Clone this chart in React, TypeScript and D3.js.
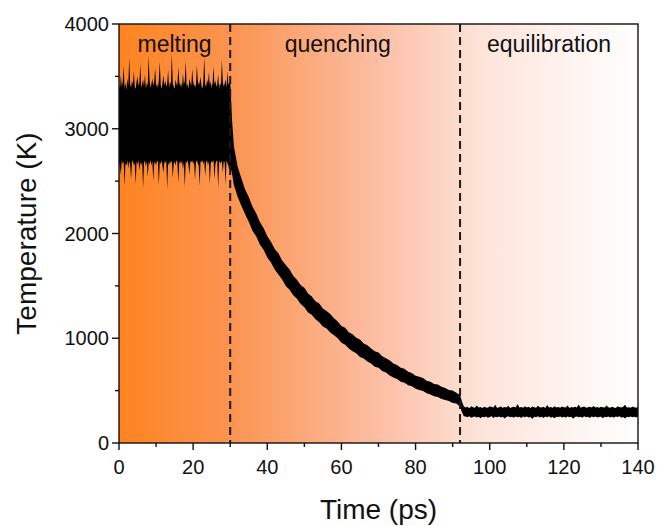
import React from 'react';
import * as d3 from 'd3';

// ---------- data ----------
const xTicks = [0, 20, 40, 60, 80, 100, 120, 140];
const xMinorTicks = [10, 30, 50, 70, 90, 110, 130];
const yTicks = [0, 1000, 2000, 3000, 4000];
const yMinorTicks = [500, 1500, 2500, 3500];

const phaseBounds = [30, 92];
const phaseLabels = ['melting', 'quenching', 'equilibration'];
const phaseLabelX = [15, 59, 116];

// melting: envelope of the noisy temperature trace every 0.25 ps (0 … 29.75 ps)
const meltTimes = d3.range(0, 29.76, 0.25);
const meltUpper = [
  3420, 3380, 3510, 3400, 3450, 3600, 3390, 3440, 3370, 3480,
  3410, 3680, 3430, 3390, 3460, 3420, 3550, 3400, 3380, 3450,
  3500, 3410, 3440, 3620, 3390, 3430, 3470, 3400, 3520, 3380,
  3440, 3410, 3700, 3460, 3390, 3430, 3480, 3410, 3450, 3580,
  3400, 3430, 3390, 3470, 3640, 3420, 3380, 3440, 3510, 3410,
  3460, 3400, 3430, 3560, 3390, 3450, 3420, 3720, 3440, 3400,
  3380, 3470, 3430, 3410, 3590, 3450, 3400, 3440, 3390, 3530,
  3420, 3460, 3650, 3400, 3430, 3380, 3480, 3440, 3410, 3570,
  3450, 3400, 3430, 3390, 3610, 3460, 3420, 3440, 3500, 3410,
  3380, 3450, 3690, 3420, 3400, 3470, 3430, 3540, 3410, 3450,
  3390, 3440, 3600, 3420, 3460, 3400, 3430, 3520, 3380, 3440,
  3410, 3660, 3450, 3400, 3430, 3470, 3390, 3550, 3420, 3440,
];
const meltLower = [
  2680, 2640, 2560, 2700, 2660, 2690, 2450, 2670, 2650, 2700,
  2620, 2690, 2660, 2520, 2680, 2700, 2650, 2670, 2470, 2690,
  2660, 2700, 2600, 2680, 2650, 2690, 2430, 2670, 2700, 2640,
  2690, 2540, 2680, 2660, 2700, 2650, 2690, 2500, 2670, 2680,
  2650, 2700, 2680, 2460, 2690, 2660, 2700, 2640, 2580, 2690,
  2670, 2700, 2420, 2680, 2650, 2690, 2670, 2700, 2530, 2660,
  2690, 2650, 2700, 2680, 2480, 2670, 2690, 2660, 2700, 2610,
  2680, 2440, 2690, 2670, 2700, 2650, 2560, 2690, 2680, 2700,
  2660, 2690, 2510, 2680, 2700, 2670, 2650, 2450, 2690, 2680,
  2700, 2660, 2690, 2550, 2680, 2700, 2650, 2690, 2470, 2670,
  2690, 2680, 2700, 2520, 2660, 2690, 2700, 2430, 2680, 2690,
  2660, 2700, 2580, 2690, 2680, 2460, 2700, 2670, 2650, 2600,
];

// quenching: centre of the decaying trace and the half-thickness of its noise above/below
const quenchTimes = [30, 30.5, ...d3.range(31, 92.01, 1), 92.5, 93];
const quenchCenter = [
  3050, 2820, 2640, 2490, 2390, 2300, 2220, 2145, 2075, 2005,
  1940, 1875, 1815, 1757, 1702, 1650, 1600, 1552, 1506, 1462,
  1420, 1380, 1342, 1305, 1270, 1236, 1203, 1171, 1140, 1110,
  1075, 1040, 1010, 982, 955, 928, 902, 877, 853, 829,
  806, 784, 760, 737, 715, 694, 674, 655, 636, 618,
  600, 583, 567, 551, 536, 521, 507, 493, 479, 465,
  452, 439, 426, 400, 345, 305,
];
const quenchNoiseUp = [
  400, 260, 190, 150, 138, 122, 128, 112, 118, 104,
  112, 98, 106, 95, 110, 92, 99, 104, 90, 97,
  88, 101, 86, 93, 84, 96, 82, 88, 92, 80,
  86, 78, 90, 75, 82, 77, 86, 72, 79, 74,
  70, 80, 68, 73, 76, 66, 71, 64, 74, 62,
  68, 60, 65, 70, 58, 63, 56, 66, 57, 61,
  55, 62, 53, 58, 50, 45,
];
const quenchNoiseDown = [
  400, 250, 180, 140, 125, 115, 108, 118, 102, 110,
  96, 105, 92, 100, 94, 88, 102, 90, 95, 86,
  92, 84, 97, 80, 88, 83, 90, 78, 85, 81,
  76, 84, 73, 80, 78, 70, 82, 71, 75, 69,
  77, 66, 72, 64, 70, 68, 62, 71, 60, 66,
  58, 64, 61, 55, 62, 57, 60, 53, 58, 54,
  52, 56, 50, 54, 52, 50,
];

// equilibration: envelope every 0.5 ps (93.5 … 140 ps)
const eqTimes = d3.range(93.5, 140.01, 0.5);
const eqUpper = [
  338, 345, 332, 350, 341, 336, 358, 339, 344, 333,
  347, 340, 336, 352, 343, 338, 366, 335, 342, 349,
  337, 344, 339, 356, 334, 341, 346, 338, 372, 340,
  343, 336, 351, 339, 345, 333, 348, 342, 337, 355,
  341, 338, 346, 335, 362, 340, 344, 337, 350, 339,
  343, 336, 348, 341, 338, 357, 335, 344, 339, 347,
  340, 368, 337, 343, 349, 336, 341, 345, 338, 353,
  339, 344, 336, 347, 341, 338, 359, 342, 337, 346,
  340, 335, 350, 343, 338, 345, 364, 339, 341, 336,
  348, 342, 337, 345,
];
const eqLower = [
  252, 246, 255, 240, 249, 253, 244, 250, 236, 251,
  247, 254, 242, 249, 256, 238, 251, 246, 253, 243,
  250, 234, 248, 255, 245, 251, 241, 253, 247, 250,
  239, 252, 246, 254, 243, 249, 230, 251, 247, 255,
  244, 250, 238, 252, 246, 255, 242, 249, 236, 251,
  248, 254, 243, 250, 240, 253, 247, 251, 232, 249,
  252, 245, 250, 241, 255, 247, 250, 238, 252, 246,
  254, 243, 249, 251, 237, 250, 246, 253, 244, 250,
  241, 252, 248, 255, 242, 249, 235, 251, 247, 253,
  245, 250, 243, 252,
];

type Pt = { t: number; lo: number; hi: number };
const zip = (ts: number[], hi: number[], lo: number[]): Pt[] =>
  ts.slice(0, Math.min(ts.length, hi.length, lo.length)).map((t, i) => ({ t, hi: hi[i], lo: lo[i] }));

const quenchUpper = quenchCenter.map((c, i) => c + quenchNoiseUp[i]);
const quenchLower = quenchCenter.map((c, i) => c - quenchNoiseDown[i]);

const trace: Pt[] = [
  ...zip(meltTimes, meltUpper, meltLower),
  ...zip(quenchTimes, quenchUpper, quenchLower),
  ...zip(eqTimes, eqUpper, eqLower),
];

// ---------- layout ----------
const W = 663;
const H = 526;
const m = { left: 119, right: 638, top: 24, bottom: 443 };
const FONT = 'Liberation Sans, Arial, Helvetica, sans-serif';

export default function App() {
  const x = d3.scaleLinear().domain([0, 140]).range([m.left, m.right]);
  const y = d3.scaleLinear().domain([0, 4000]).range([m.bottom, m.top]);

  const area = d3
    .area<Pt>()
    .x((d) => x(d.t))
    .y0((d) => y(d.lo))
    .y1((d) => y(d.hi))
    .curve(d3.curveLinear);

  const pw = m.right - m.left;
  const ph = m.bottom - m.top;

  return (
    <svg
      width={W}
      height={H}
      viewBox={`0 0 ${W} ${H}`}
      style={{ position: 'absolute', left: 0, top: 0, background: '#fff' }}
      fontFamily={FONT}
    >
      <defs>
        <linearGradient id="bg" x1="0" x2="1" y1="0" y2="0">
          <stop offset="0" stopColor="#ff8420" />
          <stop offset="0.22" stopColor="#fb9452" />
          <stop offset="0.5" stopColor="#fcbea4" />
          <stop offset="0.7" stopColor="#fde4da" />
          <stop offset="1" stopColor="#ffffff" />
        </linearGradient>
        <clipPath id="plot">
          <rect x={m.left} y={m.top} width={pw} height={ph} />
        </clipPath>
      </defs>

      <rect x={m.left} y={m.top} width={pw} height={ph} fill="url(#bg)" />

      <g clipPath="url(#plot)">
        <path d={area(trace) || ''} fill="#000" />
      </g>

      {phaseBounds.map((b) => (
        <line
          key={b}
          x1={x(b)}
          x2={x(b)}
          y1={m.top}
          y2={m.bottom}
          stroke="#1a1a1a"
          strokeWidth={2}
          strokeDasharray="8,5"
        />
      ))}

      {phaseLabels.map((l, i) => (
        <text key={l} x={x(phaseLabelX[i])} y={52} fontSize={23} textAnchor="middle" fill="#111">
          {l}
        </text>
      ))}

      {/* frame */}
      <rect x={m.left} y={m.top} width={pw} height={ph} fill="none" stroke="#111" strokeWidth={1.4} />

      {/* x axis ticks */}
      {xTicks.map((t) => (
        <g key={`x${t}`}>
          <line x1={x(t)} x2={x(t)} y1={m.bottom} y2={m.bottom + 7} stroke="#111" strokeWidth={1.4} />
          <text x={x(t)} y={m.bottom + 31} fontSize={20} textAnchor="middle" fill="#111">
            {t}
          </text>
        </g>
      ))}
      {xMinorTicks.map((t) => (
        <line key={`xm${t}`} x1={x(t)} x2={x(t)} y1={m.bottom} y2={m.bottom + 4} stroke="#111" strokeWidth={1.4} />
      ))}

      {/* y axis ticks */}
      {yTicks.map((t) => (
        <g key={`y${t}`}>
          <line x1={m.left - 7} x2={m.left} y1={y(t)} y2={y(t)} stroke="#111" strokeWidth={1.4} />
          <text x={m.left - 10} y={y(t)} dy="0.36em" fontSize={20} textAnchor="end" fill="#111">
            {t}
          </text>
        </g>
      ))}
      {yMinorTicks.map((t) => (
        <line key={`ym${t}`} x1={m.left - 4} x2={m.left} y1={y(t)} y2={y(t)} stroke="#111" strokeWidth={1.4} />
      ))}

      <text x={(m.left + m.right) / 2} y={519} fontSize={28} textAnchor="middle" fill="#111">
        Time (ps)
      </text>
      <text
        transform={`translate(36, ${(m.top + m.bottom) / 2}) rotate(-90)`}
        fontSize={28}
        textAnchor="middle"
        fill="#111"
      >
        Temperature (K)
      </text>
    </svg>
  );
}
